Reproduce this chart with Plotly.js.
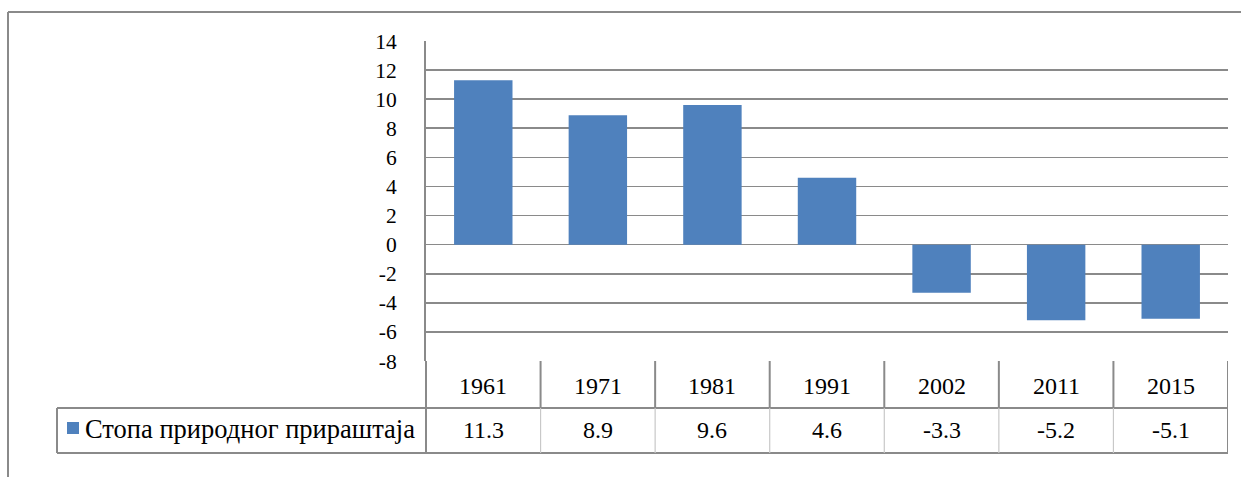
<!DOCTYPE html>
<html>
<head>
<meta charset="utf-8">
<script src="https://cdn.plot.ly/plotly-3.0.1.min.js"></script>
<style>html,body{margin:0;padding:0;background:#fff;}#chart{width:1241px;height:477px;}</style>
</head>
<body>
<div id="chart"></div>
<script>
const years = ['1961', '1971', '1981', '1991', '2002', '2011', '2015'];
const rates = [11.3, 8.9, 9.6, 4.6, -3.3, -5.2, -5.1];
const seriesName = 'Стопа природног прираштаја';
const yTicks = [-8, -6, -4, -2, 0, 2, 4, 6, 8, 10, 12, 14];

const FONT = 'Liberation Serif';
const BLUE = '#4F81BD';
const GRID = '#8a8a8a';

// pixel helpers for paper coords (plot area 426..1228 x, 41..361 y)
const PL = 426, PR = 1228, PT = 41, PB = 361;
const px = v => (v - PL) / (PR - PL);
const py = v => (PB - v) / (PB - PT);

const shapes = [];
const annotations = [];

// outer chart frame (extends past the picture on right/bottom)
shapes.push({type: 'line', xref: 'paper', yref: 'paper', x0: px(8), x1: px(1300), y0: py(12), y1: py(12), line: {color: GRID, width: 2}});
shapes.push({type: 'line', xref: 'paper', yref: 'paper', x0: px(8), x1: px(8), y0: py(12), y1: py(520), line: {color: GRID, width: 2}});

// table horizontal lines
shapes.push({type: 'line', xref: 'paper', yref: 'paper', x0: px(57), x1: 1, y0: py(408), y1: py(408), line: {color: GRID, width: 2}});
shapes.push({type: 'line', xref: 'paper', yref: 'paper', x0: px(57), x1: 1, y0: py(453), y1: py(453), line: {color: GRID, width: 2}});
// legend cell left border
shapes.push({type: 'line', xref: 'paper', yref: 'paper', x0: px(57), x1: px(57), y0: py(408), y1: py(453), line: {color: GRID, width: 2}});
// axis line continuing through the table
shapes.push({type: 'line', xref: 'paper', yref: 'paper', x0: 0, x1: 0, y0: 0, y1: py(453), line: {color: GRID, width: 2}});

// category dividers through the table, from category positions
for (let i = 0; i < years.length; i++) {
  const xb = i + 0.5;
  shapes.push({type: 'line', xref: 'x', yref: 'paper', x0: xb, x1: xb, y0: 0, y1: py(408), line: {color: GRID, width: 2}});
  shapes.push({type: 'line', xref: 'x', yref: 'paper', x0: xb, x1: xb, y0: py(408), y1: py(453), line: {color: (i === years.length - 1 ? GRID : '#c8c8c8'), width: (i === years.length - 1 ? 2 : 1.2)}});
  annotations.push({xref: 'x', yref: 'paper', x: i, y: py(386), text: years[i], showarrow: false, xanchor: 'center', yanchor: 'middle', font: {family: FONT, size: 24, color: '#000'}});
  annotations.push({xref: 'x', yref: 'paper', x: i, y: py(430), text: String(rates[i]), showarrow: false, xanchor: 'center', yanchor: 'middle', font: {family: FONT, size: 24, color: '#000'}});
}

// legend key
shapes.push({type: 'rect', xref: 'paper', yref: 'paper', x0: px(67), x1: px(79), y0: py(422), y1: py(434), fillcolor: BLUE, line: {width: 0}});
annotations.push({xref: 'paper', yref: 'paper', x: px(83), y: py(429), text: seriesName, showarrow: false, xanchor: 'left', yanchor: 'middle', font: {family: FONT, size: 26.5, color: '#000'}});

const trace = {
  type: 'bar',
  x: years,
  y: rates,
  name: seriesName,
  marker: {color: BLUE, line: {width: 0}},
  hoverinfo: 'x+y'
};

const layout = {
  width: 1241,
  height: 477,
  margin: {l: PL, r: 1241 - PR, t: PT, b: 477 - PB, pad: 0},
  paper_bgcolor: '#fff',
  plot_bgcolor: '#fff',
  showlegend: false,
  bargap: 0.49,
  font: {family: FONT, color: '#000'},
  xaxis: {
    type: 'category',
    range: [-0.5, years.length - 0.5],
    showticklabels: false,
    showgrid: false,
    zeroline: false,
    showline: false,
    ticks: '',
    fixedrange: true
  },
  yaxis: {
    range: [-8, 14],
    tickvals: yTicks,
    ticktext: yTicks.map(String),
    showgrid: true,
    gridcolor: GRID,
    gridwidth: 1.6,
    zeroline: false,
    showline: true,
    linecolor: GRID,
    linewidth: 2,
    ticks: '',
    ticklabelstandoff: 23,
    tickfont: {family: FONT, size: 21.5, color: '#000'},
    fixedrange: true
  },
  shapes: shapes,
  annotations: annotations
};

Plotly.newPlot('chart', [trace], layout, {displayModeBar: false, staticPlot: true});
</script>
</body>
</html>
